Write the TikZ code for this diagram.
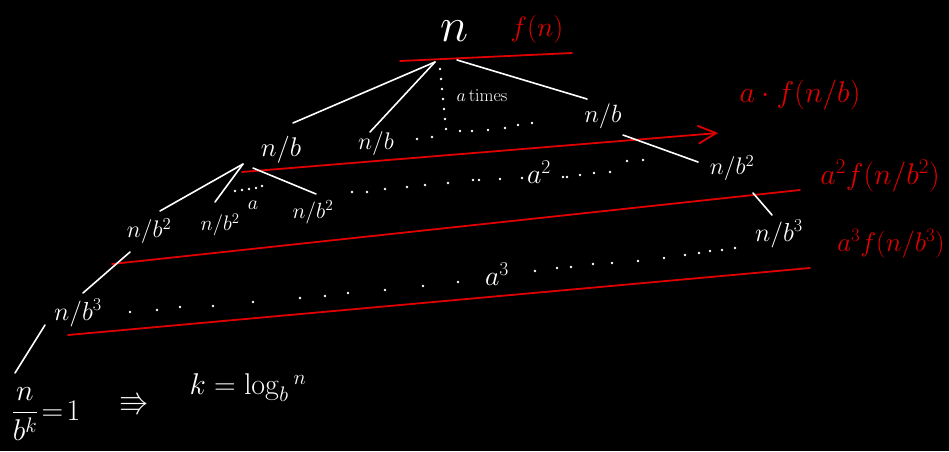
\RequirePackage{fix-cm}
\documentclass[tikz,border=0pt]{standalone}
\usepackage{amsmath,amssymb}
\usetikzlibrary{arrows.meta}
\definecolor{hred}{HTML}{E00000}
\tikzset{
  wl/.style={draw=white, line width=1.6pt, line cap=round},
  rl/.style={draw=hred, line width=1.8pt, line cap=round},
  wt/.style={text=white, inner sep=0pt},
  rt/.style={text=hred, inner sep=0pt},
  dotw/.style={fill=white},
}
\newcommand{\fs}[1]{\fontsize{#1}{#1}\selectfont}
\begin{document}
\begin{tikzpicture}[x=1pt,y=-1pt]
\fill[black] (0,0) rectangle (949,451);
\useasboundingbox (0,0) rectangle (949,451);

% root
\node[wt,font=\fs{48}] (root) at (455,31) {$n$};
\node[rt,font=\fs{28}] (fn) at (537,29) {$f(n)$};
\coordinate (l0a) at (400,61); \coordinate (l0b) at (572,53);
\draw[rl] (l0a) -- (l0b);

% level 1
\node[wt,font=\fs{27}] (b1) at (281,150) {$n/b$};
\node[wt,font=\fs{24}] (b2) at (376,143) {$n/b$};
\node[wt,font=\fs{25}] (b3) at (603,116) {$n/b$};
\coordinate (r0) at (435,62); \coordinate (r1) at (457,60);
\coordinate (e1) at (293,123); \coordinate (e2) at (370,132); \coordinate (e3) at (587,99);
\draw[wl] (r0) -- (e1);
\draw[wl] (r0) -- (e2);
\draw[wl] (r1) -- (e3);
\node[wt,font=\fs{18}] (atimes) at (482,96) {$a\,\mathrm{times}$};
\foreach \p in {(440,69),(441,79),(442,89),(443,99),(444,109),(445,119),(446,129),
  (417,139),(432,137),(460,131),(472,131),(488,130),(505,128),(518,125),(532,123)}
  \fill[dotw] \p circle (1.3);

% red arrow
\coordinate (ar0) at (242,172); \coordinate (ar1) at (718,133);
\draw[rl,-{Straight Barb[length=18pt,width=18pt,line width=1.8pt]}] (ar0) -- (ar1);
\node[rt,font=\fs{30}] (afb) at (800,95) {$a\cdot f(n/b)$};

% level 2
\node[wt,font=\fs{24}] (c1) at (149,231) {$n/b^2$};
\node[wt,font=\fs{21}] (c2) at (220,225) {$n/b^2$};
\node[wt,font=\fs{22}] (c3) at (313,212) {$n/b^2$};
\node[wt,font=\fs{24}] (c4) at (732,168) {$n/b^2$};
\coordinate (q0) at (243,164); \coordinate (q1) at (253,168);
\coordinate (f1) at (160,211); \coordinate (f2) at (215,202); \coordinate (f3) at (316,194);
\coordinate (g0) at (623,135); \coordinate (g1) at (698,162);
\draw[wl] (q0) -- (f1);
\draw[wl] (q0) -- (f2);
\draw[wl] (q1) -- (f3);
\draw[wl] (g0) -- (g1);
\node[wt,font=\fs{20}] (a1) at (253,205) {$a$};
\foreach \p in {(235,191),(242,190),(249,189),(256,188),(262,186),
  (352,192),(367,192),(385,189),(407,187),(425,185),(448,183),(473,180),(479,180),(500,179),(522,178),
  (563,177),(567,177),(580,175),(594,173),(610,172),(627,161),(643,160)}
  \fill[dotw] \p circle (1.3);
\node[wt,font=\fs{28}] (a2) at (539,172) {$a^2$};

\coordinate (l2a) at (112,264); \coordinate (l2b) at (800,190);
\draw[rl] (l2a) -- (l2b);
\node[rt,font=\fs{30}] (a2f) at (880,176) {$a^2 f(n/b^2)$};

% level 3
\node[wt,font=\fs{26}] (d1) at (78,313) {$n/b^3$};
\node[wt,font=\fs{26}] (d2) at (779,234) {$n/b^3$};
\coordinate (h0) at (130,252); \coordinate (h1) at (83,293);
\coordinate (k0) at (753,193); \coordinate (k1) at (772,215);
\draw[wl] (h0) -- (h1);
\draw[wl] (k0) -- (k1);
\foreach \p in {(130,312),(157,310),(180,307),(213,306),(253,302),(300,298),(325,296),(348,293),(385,290),
  (423,286),(458,282),(535,271),(557,268),(571,267),(593,264),(612,263),(638,261),(664,258),(685,255),(699,253),(710,251),(722,250),(735,248)}
  \fill[dotw] \p circle (1.3);
\node[wt,font=\fs{28}] (a3) at (497,274) {$a^3$};

\coordinate (l3a) at (68,335); \coordinate (l3b) at (810,268);
\draw[rl] (l3a) -- (l3b);
\node[rt,font=\fs{27}] (a3f) at (891,244) {$a^3 f(n/b^3)$};

% bottom
\coordinate (m0) at (45,325); \coordinate (m1) at (15,373);
\draw[wl] (m0) -- (m1);
\node[wt,font=\fs{30}] (frac) at (46,414) {$\dfrac{n}{b^k}\!=\!1$};
\node[wt,font=\fs{30}] (impl) at (134,404) {$\Rrightarrow$};
\node[wt,font=\fs{30}] (klog) at (248,388) {$k=\log_b{}^{n}$};
\end{tikzpicture}
\end{document}
